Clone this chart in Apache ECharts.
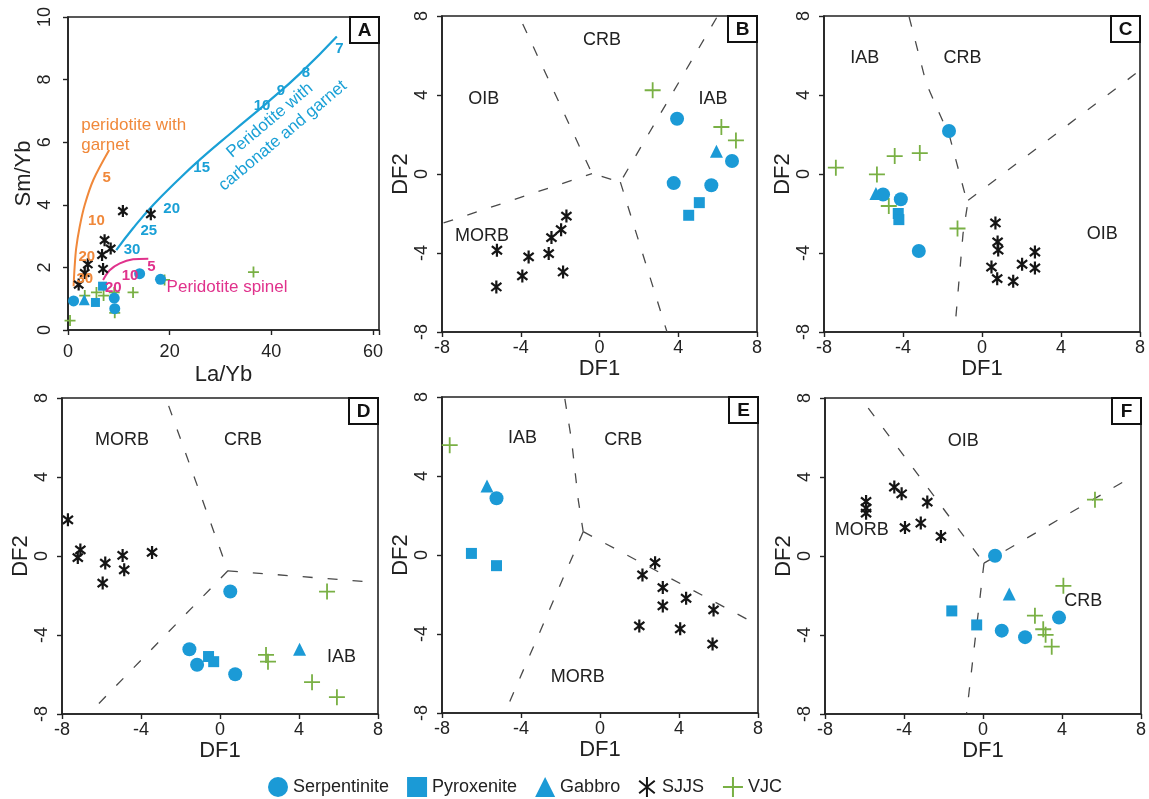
<!DOCTYPE html>
<html><head><meta charset="utf-8">
<script src="https://cdn.jsdelivr.net/npm/echarts@6/dist/echarts.min.js"></script>
<style>html,body{margin:0;padding:0;background:#fff}#c{width:1149px;height:799px}</style>
</head><body><div id="c"></div>
<script>
// ---------------- DATA ----------------
const panelNames = ['A', 'B', 'C', 'D', 'E', 'F'];
const sampleTypes = ['Serpentinite', 'Pyroxenite', 'Gabbro', 'SJJS', 'VJC'];
const ticksAx = [0, 20, 40, 60];
const ticksAy = [0, 2, 4, 6, 8, 10];
const ticksDF = [-8, -4, 0, 4, 8];

// Panel A : La/Yb vs Sm/Yb
const serpA = [[1.1, 0.93], [9.1, 1.02], [9.2, 0.68], [14.1, 1.8], [18.2, 1.62]];
const pyroA = [[5.4, 0.88], [6.8, 1.4]];
const gabA = [[3.2, 0.97]];
const sjjsA = [[2.1, 1.45], [3.3, 1.82], [3.9, 2.1], [6.7, 2.4], [6.9, 1.95], [7.2, 2.87], [8.4, 2.6], [10.8, 3.8], [16.3, 3.7]];
const vjcA = [[0.4, 0.3], [3.3, 1.1], [5.6, 1.2], [7.0, 1.1], [9.1, 1.2], [9.2, 0.55], [12.8, 1.2], [19.0, 1.6], [36.5, 1.85]];
const garnetCurve = [[1.1, 1.4], [1.3, 2.0], [1.6, 2.6], [2.3, 3.3], [3.3, 4.0], [5.0, 4.8], [8.1, 5.75]];
const carbonateCurve = [[9.5, 2.55], [12.8, 3.25], [16.8, 4.0], [21.4, 4.75], [26.0, 5.45], [32.5, 6.35], [39.1, 7.25], [45.7, 8.2], [52.9, 9.38]];
const spinelCurve = [[6.9, 1.6], [8.2, 1.91], [10.2, 2.13], [12.8, 2.26], [15.8, 2.28]];
const garnetMarks = [['5', 7.6, 4.86], ['10', 5.6, 3.48], ['20', 3.7, 2.34], ['30', 3.3, 1.62]];
const carbonateMarks = [['7', 53.4, 8.99], ['8', 46.8, 8.21], ['9', 41.9, 7.64], ['10', 38.2, 7.15], ['15', 26.3, 5.18], ['20', 20.4, 3.86], ['25', 15.9, 3.17], ['30', 12.6, 2.57]];
const spinelMarks = [['5', 16.4, 2.02], ['10', 12.2, 1.72], ['20', 8.9, 1.36]];
const garnetText = ['peridotite with\ngarnet', 2.6, 6.22];
const carbonateText = ['Peridotite with\ncarbonate and garnet', 41.0, 6.45];
const spinelText = ['Peridotite spinel', 19.4, 1.37];

// Panel B
const serpB = [[3.94, 2.80], [3.77, -0.46], [5.68, -0.57], [6.73, 0.66]];
const pyroB = [[4.53, -2.09], [5.07, -1.45]];
const gabB = [[5.94, 1.15]];
const sjjsB = [[-1.68, -2.13], [-1.95, -2.82], [-2.44, -3.22], [-2.58, -4.03], [-3.60, -4.20], [-5.21, -3.86], [-3.92, -5.16], [-5.24, -5.72], [-1.85, -4.96]];
const vjcB = [[2.70, 4.24], [6.19, 2.38], [6.93, 1.70]];
const linesB = [[[-7.92, -2.48], [-0.38, 0.02]], [[-3.9, 7.6], [-0.38, 0.02], [1.06, -0.41], [6.0, 8.0]], [[1.06, -0.41], [3.43, -8]]];
const regionsB = [['CRB', 0.13, 6.77], ['OIB', -5.88, 3.82], ['IAB', 5.76, 3.78], ['MORB', -5.97, -3.14]];

// Panel C
const serpC = [[-1.67, 2.18], [-5.01, -1.04], [-4.11, -1.28], [-3.20, -3.90]];
const pyroC = [[-4.24, -2.0], [-4.21, -2.31]];
const gabC = [[-5.37, -0.99]];
const sjjsC = [[0.68, -2.48], [0.79, -3.44], [0.82, -3.85], [0.48, -4.71], [0.77, -5.30], [1.58, -5.43], [2.03, -4.57], [2.68, -3.95], [2.68, -4.76]];
const vjcC = [[-7.40, 0.32], [-5.32, -0.02], [-4.42, 0.91], [-3.15, 1.06], [-4.72, -1.62], [-1.24, -2.76]];
const linesC = [[[-3.69, 7.95], [-2.82, 4.58], [-1.63, 1.87], [-0.87, -0.99], [-0.70, -1.33], [-0.96, -3.02], [-1.38, -7.91]], [[-0.70, -1.33], [8, 5.25]]];
const regionsC = [['IAB', -5.94, 5.89], ['CRB', -0.99, 5.89], ['OIB', 6.09, -3.02]];

// Panel D
const serpD = [[0.52, -1.80], [-1.55, -4.72], [-1.16, -5.51], [0.77, -5.99]];
const pyroD = [[-0.58, -5.09], [-0.32, -5.35]];
const gabD = [[4.03, -4.72]];
const sjjsD = [[-7.70, 1.83], [-7.07, 0.31], [-7.2, -0.08], [-5.81, -0.36], [-5.94, -1.37], [-4.93, 0.03], [-4.85, -0.70], [-3.44, 0.18]];
const vjcD = [[5.42, -1.80], [2.33, -5.01], [2.43, -5.35], [4.66, -6.39], [5.92, -7.15]];
const linesD = [[[-2.6, 7.6], [0.40, -0.75]], [[0.40, -0.75], [8, -1.35]], [[0.40, -0.75], [-6.65, -8]]];
const regionsD = [['MORB', -4.96, 5.89], ['CRB', 1.16, 5.89], ['IAB', 6.15, -5.14]];

// Panel E
const serpE = [[-5.24, 2.87]];
const pyroE = [[-6.51, 0.08], [-5.24, -0.54]];
const gabE = [[-5.72, 3.50]];
const sjjsE = [[2.79, -0.39], [2.15, -1.01], [3.18, -1.65], [4.36, -2.19], [3.18, -2.58], [5.75, -2.78], [1.99, -3.59], [4.06, -3.74], [5.70, -4.51]];
const vjcE = [[-7.61, 5.56]];
const linesE = [[[-1.78, 7.9], [-1.44, 5.81], [-1.1, 2.78], [-0.85, 1.18]], [[-0.85, 1.18], [-4.82, -8]], [[-0.85, 1.18], [7.52, -3.29]]];
const regionsE = [['IAB', -3.92, 5.90], ['CRB', 1.18, 5.81], ['MORB', -1.13, -6.18]];

// Panel F
const serpF = [[0.61, 0.01], [0.95, -3.78], [2.13, -4.11], [3.85, -3.12]];
const pyroF = [[-1.58, -2.78], [-0.32, -3.49]];
const gabF = [[1.33, -1.92]];
const sjjsF = [[-5.92, 2.76], [-5.92, 2.42], [-5.92, 2.17], [-4.49, 3.49], [-4.12, 3.15], [-2.82, 2.73], [-3.95, 1.44], [-3.15, 1.67], [-2.13, 0.99]];
const vjcF = [[5.67, 2.85], [4.07, -1.51], [2.63, -3.02], [3.05, -3.71], [3.17, -3.99], [3.48, -4.59]];
const linesF = [[[-5.81, 7.49], [0.05, -0.36]], [[0.05, -0.36], [7.44, 3.95]], [[0.05, -0.36], [-0.83, -7.96]]];
const regionsF = [['OIB', -1.0, 5.80], ['MORB', -6.14, 1.33], ['CRB', 5.08, -2.26]];

// ---------------- STYLE / LAYOUT ----------------
const FONT = "'Liberation Sans', Arial, sans-serif";
const BLUE = '#1b9ad6', GREEN = '#79b044', BLACK = '#151515';
const ORANGE = '#f0883a', CBLUE = '#1aa0d6', PINK = '#e0328c';
const TXT = '#222222';
const ASTER = 'path://M0,-1L0,1M-0.78,-0.62L0.78,0.62M-0.78,0.62L0.78,-0.62';
const PLUS = 'path://M-1,0L1,0M0,-1L0,1';

const grids = [
  { left: 68, top: 17, width: 311, height: 313 },
  { left: 442, top: 16, width: 315, height: 316 },
  { left: 824, top: 16, width: 316, height: 316 },
  { left: 62, top: 398, width: 316, height: 316 },
  { left: 442, top: 397, width: 316, height: 316 },
  { left: 825, top: 398, width: 316, height: 316 }
];

const panelData = [
  { serp: serpA, pyro: pyroA, gab: gabA, sjjs: sjjsA, vjc: vjcA, lines: [], regions: [] },
  { serp: serpB, pyro: pyroB, gab: gabB, sjjs: sjjsB, vjc: vjcB, lines: linesB, regions: regionsB },
  { serp: serpC, pyro: pyroC, gab: gabC, sjjs: sjjsC, vjc: vjcC, lines: linesC, regions: regionsC },
  { serp: serpD, pyro: pyroD, gab: gabD, sjjs: sjjsD, vjc: vjcD, lines: linesD, regions: regionsD },
  { serp: serpE, pyro: pyroE, gab: gabE, sjjs: sjjsE, vjc: vjcE, lines: linesE, regions: regionsE },
  { serp: serpF, pyro: pyroF, gab: gabF, sjjs: sjjsF, vjc: vjcF, lines: linesF, regions: regionsF }
];

const axLine = { show: true, onZero: false, lineStyle: { color: '#222', width: 1.6 } };
const axTick = { show: true, inside: false, length: 5, lineStyle: { color: '#222', width: 1.4 } };

function mkX(i) {
  const isA = i === 0;
  const ticks = isA ? ticksAx : ticksDF;
  return {
    type: 'value', gridIndex: i,
    min: isA ? 0 : -8, max: isA ? 61.2 : 8, interval: isA ? 20 : 4,
    axisLine: axLine, axisTick: axTick, splitLine: { show: false },
    axisLabel: { fontSize: 18, color: TXT, fontFamily: FONT, margin: isA ? 13 : 7,
      formatter: v => ticks.includes(Math.round(v * 1000) / 1000) ? String(v) : '' },
    name: isA ? 'La/Yb' : 'DF1', nameLocation: 'middle', nameGap: isA ? 34 : 20,
    nameTextStyle: { fontSize: 22, color: TXT, fontFamily: FONT }
  };
}
function mkY(i) {
  const isA = i === 0;
  const ticks = isA ? ticksAy : ticksDF;
  return {
    type: 'value', gridIndex: i,
    min: isA ? 0 : -8, max: isA ? 10 : 8, interval: isA ? 2 : 4,
    axisLine: axLine, axisTick: axTick, splitLine: { show: false },
    axisLabel: { fontSize: 18, color: TXT, fontFamily: FONT, rotate: 90, margin: isA ? 14 : 11,
      formatter: v => ticks.includes(Math.round(v * 1000) / 1000) ? String(v) : '' },
    name: isA ? 'Sm/Yb' : 'DF2', nameLocation: 'middle', nameGap: isA ? 32 : 30,
    nameTextStyle: { fontSize: 22, color: TXT, fontFamily: FONT }
  };
}

const series = [];
function scatter(name, data, i, symbol, size, color, border, bw) {
  series.push({
    type: 'scatter', name: name, xAxisIndex: i, yAxisIndex: i, data: data,
    symbol: symbol, symbolSize: size, symbolKeepAspect: true, silent: true, z: 5,
    itemStyle: { color: color, borderColor: border || color, borderWidth: bw || 0, opacity: 1 }
  });
}
function textSeries(items, i, color, fontSize, weight, extra) {
  series.push({
    type: 'scatter', xAxisIndex: i, yAxisIndex: i, silent: true, z: 8,
    symbolSize: 1, itemStyle: { color: 'rgba(0,0,0,0)', opacity: 1 },
    data: items.map(t => ({ name: t[0], value: [t[1], t[2]] })),
    label: Object.assign({ show: true, position: 'inside', formatter: '{b}', color: color, opacity: 1,
      fontSize: fontSize, fontWeight: weight, fontFamily: FONT, textBorderWidth: 0,
      align: 'center', verticalAlign: 'middle' }, extra || {})
  });
}
function lineSeries(data, i, color, width, type, smooth) {
  series.push({
    type: 'line', xAxisIndex: i, yAxisIndex: i, data: data, symbol: 'none', silent: true, z: 3,
    smooth: smooth || false, lineStyle: { color: color, width: width, type: type }
  });
}

panelData.forEach((p, i) => {
  const isA = i === 0;
  p.lines.forEach(l => lineSeries(l, i, '#4a4a4a', 1.3, [10, 15]));
  if (isA) {
    lineSeries(garnetCurve, i, ORANGE, 2, 'solid', 0.3);
    lineSeries(carbonateCurve, i, CBLUE, 2.2, 'solid', 0.5);
    lineSeries(spinelCurve, i, PINK, 2, 'solid', 0.3);
  }
  scatter('VJC', p.vjc, i, PLUS, isA ? 11 : 16, GREEN, GREEN, 1.8);
  scatter('SJJS', p.sjjs, i, ASTER, isA ? 12 : 13, BLACK, BLACK, 2.2);
  scatter('Serpentinite', p.serp, i, 'circle', isA ? 11 : 14, BLUE);
  scatter('Pyroxenite', p.pyro, i, 'rect', isA ? 9 : 11, BLUE);
  scatter('Gabbro', p.gab, i, 'triangle', isA ? 11 : 13, BLUE);
  if (p.regions.length) textSeries(p.regions, i, TXT, 18, 'normal');
  if (isA) {
    textSeries(garnetMarks, i, ORANGE, 15, 'bold');
    textSeries(carbonateMarks, i, CBLUE, 15, 'bold');
    textSeries(spinelMarks, i, PINK, 15, 'bold');
    textSeries([garnetText], i, ORANGE, 17, 'normal', { align: 'left', lineHeight: 20 });
    textSeries([spinelText], i, PINK, 17, 'normal', { align: 'left' });
    textSeries([carbonateText], i, CBLUE, 17, 'normal', { rotate: 40, lineHeight: 20 });
  }
});

const graphic = [];
grids.forEach((g, i) => {
  const bx = g.left + g.width - 29, by = g.top;
  graphic.push({ type: 'rect', shape: { x: bx, y: by, width: 29, height: 26 },
    style: { fill: '#fff', stroke: '#111', lineWidth: 2 }, z: 100 });
  graphic.push({ type: 'text', x: bx + 14.5, y: by + 13.5, z: 101,
    style: { text: panelNames[i], align: 'center', verticalAlign: 'middle',
      font: 'bold 19px ' + FONT, fill: '#111' } });
});

const legendIcons = {
  Serpentinite: { icon: 'circle' },
  Pyroxenite: { icon: 'rect' },
  Gabbro: { icon: 'triangle' },
  SJJS: { icon: ASTER, itemStyle: { color: BLACK, borderColor: BLACK, borderWidth: 2 } },
  VJC: { icon: PLUS, itemStyle: { color: GREEN, borderColor: GREEN, borderWidth: 2 } }
};

const option = {
  animation: false,
  backgroundColor: '#fff',
  grid: grids.map(g => Object.assign({ show: true, borderColor: '#222', borderWidth: 1.6, backgroundColor: 'transparent', containLabel: false }, g)),
  xAxis: grids.map((g, i) => mkX(i)),
  yAxis: grids.map((g, i) => mkY(i)),
  legend: {
    left: 263, top: 771, itemWidth: 20, itemHeight: 20, itemGap: 18,
    textStyle: { fontSize: 18, color: TXT, fontFamily: FONT },
    data: sampleTypes.map(n => Object.assign({ name: n }, legendIcons[n])),
    selectedMode: false
  },
  graphic: graphic,
  series: series
};

const chart = echarts.init(document.getElementById('c'), null, { renderer: 'canvas' });
chart.setOption(option);
</script></body></html>
